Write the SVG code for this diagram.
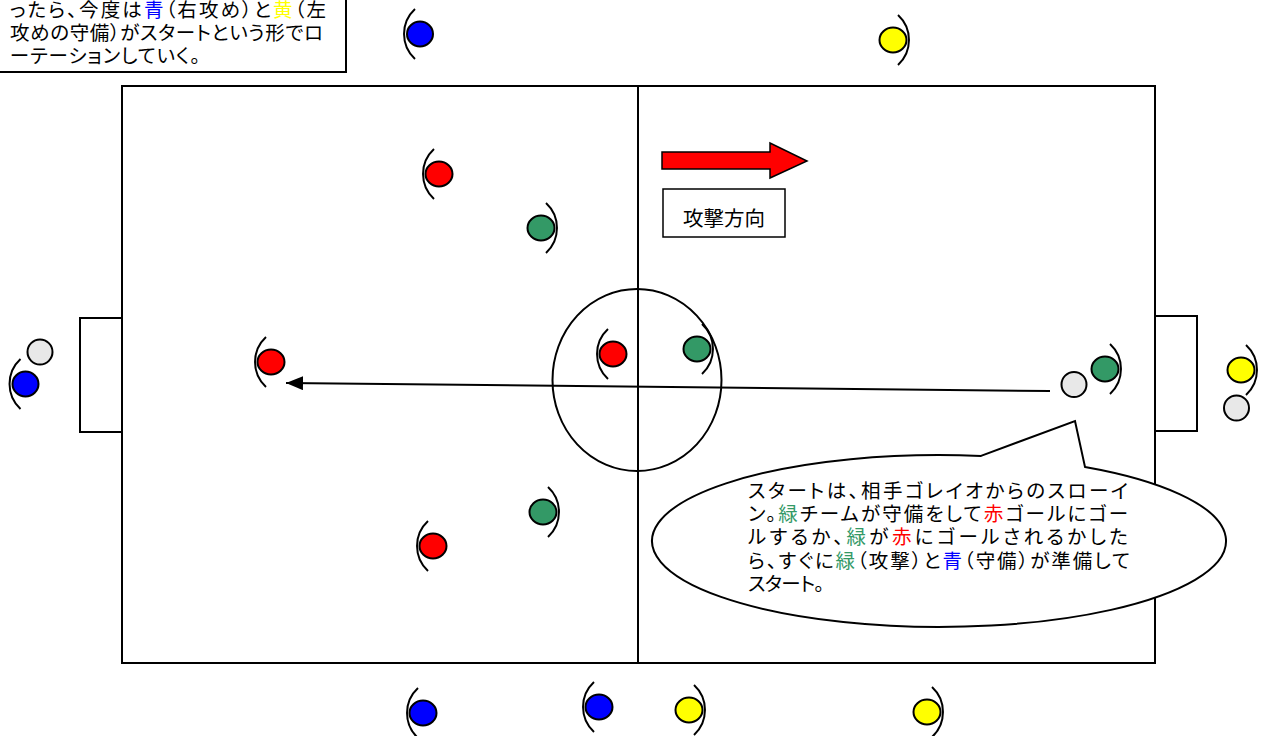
<svg xmlns="http://www.w3.org/2000/svg" xmlns:xlink="http://www.w3.org/1999/xlink" width="1270" height="736" viewBox="0 0 1270 736">
<style>
.ln{fill:none;stroke:#000;stroke-width:2}
.pl{stroke:#000;stroke-width:2}
.br{fill:none;stroke:#000;stroke-width:2}
.tx{font-family:"Noto Sans CJK JP","Noto Sans",sans-serif;font-size:19.5px;fill:#000;font-feature-settings:"palt"}
.r{fill:#ff0000}.g{fill:#339966}.b{fill:#0000ff}.y{fill:#ffff00}.w{fill:#e8e8e8}
.gt{fill:#339966}.rt{fill:#ff0000}.bt{fill:#0000ff}.yt{fill:#ffff00}
</style>
<defs>
<path id="bl" class="br" d="M -5,-25 A 34 34 0 0 0 -5 25"/>
<path id="brr" class="br" d="M 5,-25 A 34 34 0 0 1 5 25"/>
<marker id="ah" markerUnits="userSpaceOnUse" markerWidth="18" markerHeight="14" refX="17" refY="7" orient="auto">
<path d="M0,0 L17,7 L0,14 Z" fill="#000"/>
</marker>
</defs>
<rect width="1270" height="736" fill="#fff"/>

<g id="field">
<rect class="ln" x="122" y="86" width="1033" height="577"/>
<line class="ln" x1="638" y1="86" x2="638" y2="663"/>
<ellipse class="ln" cx="637" cy="380" rx="84.5" ry="91"/>
<rect class="ln" x="80" y="318" width="42" height="114"/>
<rect class="ln" x="1155" y="316" width="42" height="115"/>
</g>

<g id="note">
<rect x="-2" y="-2" width="348" height="74" fill="#fff" stroke="#000" stroke-width="2"/>
<text class="tx" x="10" y="17" textLength="316" lengthAdjust="spacing">ったら、今度は<tspan class="bt">青</tspan>（右攻め）と<tspan class="yt">黄</tspan>（左</text>
<text class="tx" x="10" y="40" textLength="313" lengthAdjust="spacing">攻めの守備）がスタートという形でロ</text>
<text class="tx" x="10" y="63" textLength="190" lengthAdjust="spacing">ーテーションしていく。</text>
</g>

<g id="direction">
<polygon points="662,152 770,152 770,143 807,161 770,178 770,169 662,169" fill="#ff0000" stroke="#000" stroke-width="1.5"/>
<rect x="663" y="189" width="122" height="48" fill="#fff" stroke="#000" stroke-width="1.5"/>
<text class="tx" x="724" y="226" text-anchor="middle" style="font-size:20.5px">攻撃方向</text>
</g>

<g id="connectors">
<line class="ln" x1="1050" y1="391" x2="286" y2="383" marker-end="url(#ah)"/>
</g>

<g id="callout">
<path d="M 981,455.93 L 1075,421 L 1085,466.96 A 287 86 0 1 1 981 455.93 Z" fill="#fff" stroke="#000" stroke-width="2"/>
<text class="tx" x="748" y="498" textLength="380" lengthAdjust="spacing">スタートは、相手ゴレイオからのスローイ</text>
<text class="tx" x="748" y="521" textLength="380" lengthAdjust="spacing">ン。<tspan class="gt">緑</tspan>チームが守備をして<tspan class="rt">赤</tspan>ゴールにゴー</text>
<text class="tx" x="748" y="544" textLength="380" lengthAdjust="spacing">ルするか、<tspan class="gt">緑</tspan>が<tspan class="rt">赤</tspan>にゴールされるかした</text>
<text class="tx" x="748" y="568" textLength="382" lengthAdjust="spacing">ら、すぐに<tspan class="gt">緑</tspan>（攻撃）と<tspan class="bt">青</tspan>（守備）が準備して</text>
<text class="tx" x="748" y="591" textLength="76" lengthAdjust="spacing">スタート。</text>
</g>

<g id="p-blue-top"><ellipse class="pl b" cx="420" cy="34" rx="13" ry="12.5"/><use xlink:href="#bl" x="420" y="34"/></g>
<g id="p-yellow-top"><ellipse class="pl y" cx="893" cy="40" rx="13.5" ry="12.5"/><use xlink:href="#brr" x="893" y="40"/></g>
<g id="p-red-1"><ellipse class="pl r" cx="439" cy="174" rx="13.5" ry="12.5"/><use xlink:href="#bl" x="439" y="174"/></g>
<g id="p-green-1"><ellipse class="pl g" cx="541" cy="228" rx="13.5" ry="12.5"/><use xlink:href="#brr" x="541" y="228"/></g>
<g id="p-grey-left"><ellipse class="pl w" cx="40" cy="352" rx="12.5" ry="12.5"/></g>
<g id="p-blue-left"><ellipse class="pl b" cx="25.5" cy="384" rx="13" ry="12.5"/><use xlink:href="#bl" x="25.5" y="384"/></g>
<g id="p-red-2"><ellipse class="pl r" cx="271" cy="362" rx="13.5" ry="12.5"/><use xlink:href="#bl" x="271" y="362"/></g>
<g id="p-red-center"><ellipse class="pl r" cx="613" cy="354" rx="13.5" ry="12.5"/><use xlink:href="#bl" x="613" y="354"/></g>
<g id="p-green-center"><ellipse class="pl g" cx="697" cy="349" rx="13.5" ry="12.5"/><use xlink:href="#brr" x="697" y="349"/></g>
<g id="p-grey-right"><ellipse class="pl w" cx="1074" cy="384.5" rx="12.5" ry="12.5"/></g>
<g id="p-green-right"><ellipse class="pl g" cx="1105" cy="369" rx="13.5" ry="12.5"/><use xlink:href="#brr" x="1105" y="369"/></g>
<g id="p-yellow-right"><ellipse class="pl y" cx="1241" cy="370" rx="13.5" ry="12.5"/><use xlink:href="#brr" x="1241" y="370"/></g>
<g id="p-grey-right2"><ellipse class="pl w" cx="1236.5" cy="408" rx="12.5" ry="12.5"/></g>
<g id="p-green-2"><ellipse class="pl g" cx="543" cy="512" rx="13.5" ry="12.5"/><use xlink:href="#brr" x="543" y="512"/></g>
<g id="p-red-3"><ellipse class="pl r" cx="433" cy="546" rx="13.5" ry="12.5"/><use xlink:href="#bl" x="433" y="546"/></g>
<g id="p-blue-b1"><ellipse class="pl b" cx="423" cy="713" rx="13.5" ry="12.5"/><use xlink:href="#bl" x="423" y="713"/></g>
<g id="p-blue-b2"><ellipse class="pl b" cx="599" cy="707" rx="13.5" ry="12.5"/><use xlink:href="#bl" x="599" y="707"/></g>
<g id="p-yellow-b1"><ellipse class="pl y" cx="689" cy="710" rx="13.5" ry="12.5"/><use xlink:href="#brr" x="689" y="710"/></g>
<g id="p-yellow-b2"><ellipse class="pl y" cx="927" cy="712" rx="13.5" ry="12.5"/><use xlink:href="#brr" x="927" y="712"/></g>
</svg>
